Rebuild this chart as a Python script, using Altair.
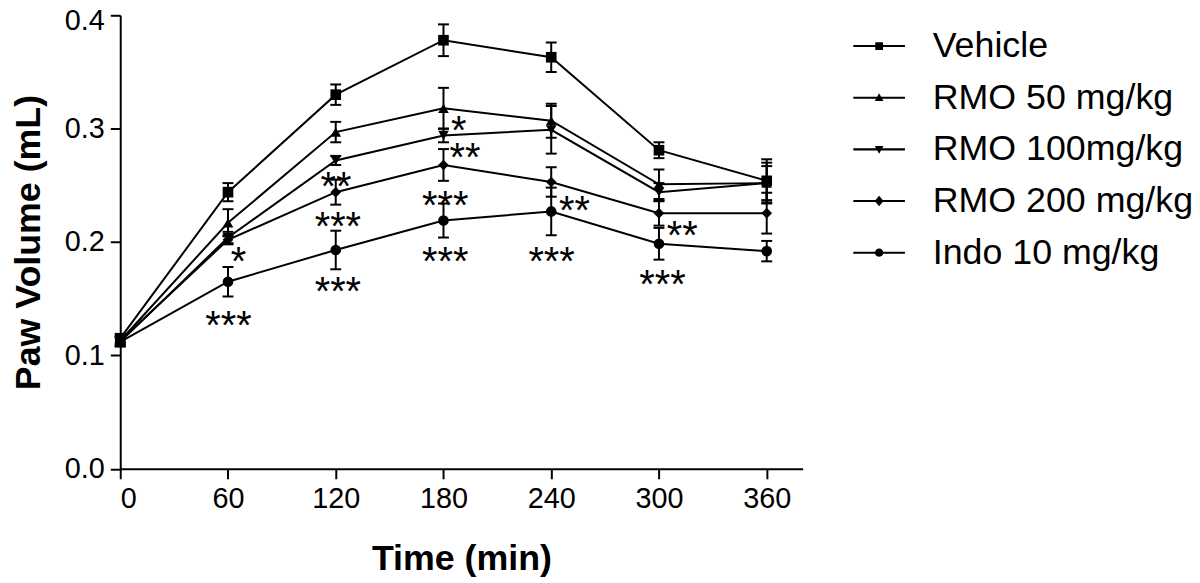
import altair as alt
import pandas as pd

# ---- data ----
times = [0, 60, 120, 180, 240, 300, 360]
groups = ["Vehicle", "RMO 50 mg/kg", "RMO 100mg/kg", "RMO 200 mg/kg", "Indo 10 mg/kg"]

vehicle = [0.115, 0.244, 0.330, 0.378, 0.363, 0.281, 0.254]
vehicle_err = [0.004, 0.008, 0.009, 0.014, 0.013, 0.007, 0.019]
rmo50 = [0.113, 0.217, 0.297, 0.318, 0.307, 0.251, 0.252]
rmo50_err = [0.004, 0.012, 0.009, 0.018, 0.015, 0.013, 0.018]
rmo100 = [0.112, 0.204, 0.272, 0.294, 0.299, 0.244, 0.252]
rmo100_err = [0.004, 0.005, 0.004, 0.006, 0.021, 0.008, 0.015]
rmo200 = [0.113, 0.202, 0.244, 0.268, 0.253, 0.2255, 0.2255]
rmo200_err = [0.004, 0.004, 0.011, 0.014, 0.013, 0.011, 0.018]
indo = [0.112, 0.165, 0.193, 0.219, 0.227, 0.1985, 0.192]
indo_err = [0.004, 0.013, 0.017, 0.015, 0.021, 0.014, 0.009]

# significance marks (time, paw volume where the mark sits, label)
sig_time = [65.9, 60.3, 120.1, 121.2, 121.2, 188.5, 192.0, 181.0, 181.0, 252.9, 240.2, 313.0, 302.0]
sig_value = [0.1912, 0.1343, 0.2576, 0.2219, 0.1650, 0.3066, 0.2832, 0.2409, 0.1912, 0.2365, 0.1912, 0.2140, 0.1708]
sig_label = ["*", "***", "**", "***", "***", "*", "**", "***", "***", "**", "***", "**", "***"]

series = [vehicle, rmo50, rmo100, rmo200, indo]
errors = [vehicle_err, rmo50_err, rmo100_err, rmo200_err, indo_err]

rows = []
for g, vals, errs in zip(groups, series, errors):
    for t, v, e in zip(times, vals, errs):
        rows.append({"time": t, "group": g, "value": v, "lo": v - e, "hi": v + e})
df = pd.DataFrame(rows)
sig_df = pd.DataFrame({"time": sig_time, "value": sig_value, "label": sig_label})

FONT = "Liberation Sans"
marker_shapes = ["square", "triangle-up", "triangle-down", "diamond", "circle"]
# legend glyphs: a thin filled bar (the line) plus the marker (all drawn clockwise)
LINE = "M-1,-0.04H1V0.04H-1Z"
legend_paths = [
    LINE + "M-0.15,-0.15H0.15V0.15H-0.15Z",
    LINE + "M0,-0.17L0.17,0.13L-0.17,0.13Z",
    LINE + "M0,0.17L-0.17,-0.13L0.17,-0.13Z",
    LINE + "M0,-0.2L0.17,0L0,0.2L-0.17,0Z",
    LINE + "M-0.16,0A0.16,0.16,0,1,1,0.16,0A0.16,0.16,0,1,1,-0.16,0Z",
]

x_enc = alt.X("time:Q", scale=alt.Scale(domain=[0, 380], nice=False, zero=False),
              axis=alt.Axis(values=times, title="Time (min)", format="d"))
y_enc = alt.Y("value:Q", scale=alt.Scale(domain=[0, 0.4], nice=False),
              axis=alt.Axis(values=[0, 0.1, 0.2, 0.3, 0.4], format=".1f", title="Paw Volume (mL)",
                            labelOffset={"condition": {"test": "datum.value > 0.35", "value": 5},
                                         "value": 0}))

base = alt.Chart(df)

lines = base.mark_line(color="black", strokeWidth=2).encode(
    x=x_enc, y=y_enc, detail="group:N", order="time:Q")

bars = base.mark_rule(color="black", strokeWidth=2).encode(
    x="time:Q", y="lo:Q", y2="hi:Q")
cap_lo = base.mark_tick(orient="horizontal", color="black", size=11, thickness=2, opacity=1).encode(
    x="time:Q", y="lo:Q")
cap_hi = base.mark_tick(orient="horizontal", color="black", size=11, thickness=2, opacity=1).encode(
    x="time:Q", y="hi:Q")

points = base.mark_point(filled=True, color="black", opacity=1, size=115).encode(
    x="time:Q", y="value:Q",
    shape=alt.Shape("group:N", scale=alt.Scale(domain=groups, range=marker_shapes), legend=None))

legend_layer = base.transform_filter("datum.time < 0").mark_point(
    filled=True, color="black", opacity=1
).encode(
    x="time:Q", y="value:Q",
    shape=alt.Shape("group:N", scale=alt.Scale(domain=groups, range=legend_paths),
                    legend=alt.Legend(title=None, orient="none", legendX=737, legendY=4,
                                      symbolSize=2704, symbolFillColor="black", symbolOpacity=1,
                                      labelFont=FONT, labelFontSize=36, labelColor="black",
                                      labelOffset=27, rowPadding=7, padding=0,
                                      labelLimit=400)))

stars = alt.Chart(sig_df).mark_text(font=FONT, fontSize=40, color="black", align="center",
                                    baseline="alphabetic", dy=23).encode(
    x="time:Q", y="value:Q", text="label:N")

chart = alt.layer(lines, bars, cap_lo, cap_hi, points, legend_layer, stars).resolve_scale(
    shape="independent"
).properties(
    width=687, height=456.6,
    padding={"left": 113, "top": 5.4, "right": 392, "bottom": 113},
    autosize=alt.AutoSizeParams(type="none"),
    background="white",
).configure_view(stroke=None).configure_axis(
    grid=False, domainColor="black", domainWidth=2, tickColor="black", tickWidth=2, tickSize=10,
    labelFont=FONT, labelFontSize=29, labelColor="black", labelPadding=6,
    titleFont=FONT, titleFontSize=36, titleFontWeight="bold", titleColor="black",
).configure_axisX(titlePadding=28).configure_axisY(titlePadding=17)

chart.save("out.html", embed_options={"renderer": "svg", "actions": False})
